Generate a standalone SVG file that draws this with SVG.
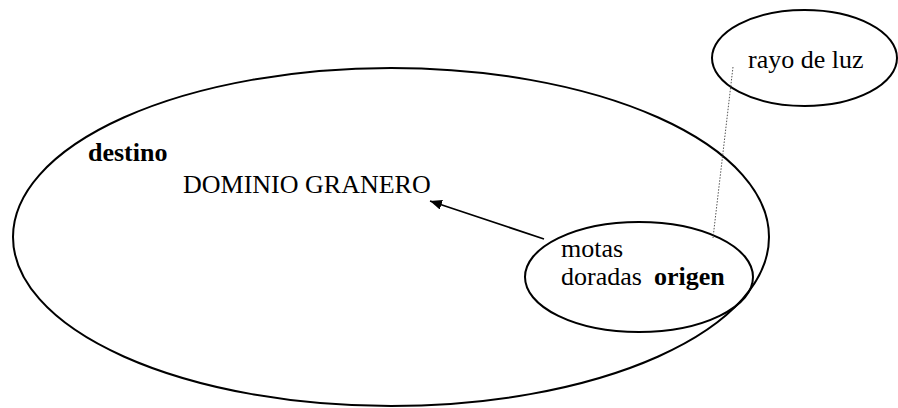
<svg xmlns="http://www.w3.org/2000/svg" width="898" height="408" viewBox="0 0 898 408">
  <style>
    .shape { fill: none; stroke: #000; stroke-width: 2; }
    .t { font-family: 'Liberation Serif', 'Times New Roman', serif; font-size: 26px; fill: #000; }
    .b { font-weight: bold; }
    .conn { stroke: #000; stroke-width: 1.7; fill: none; }
    .dot { stroke: #555; stroke-width: 1; stroke-dasharray: 1.5 1.5; fill: none; }
  </style>
  <defs>
    <marker id="arrow" viewBox="0 0 12 10" refX="12" refY="5" markerWidth="12" markerHeight="10" markerUnits="userSpaceOnUse" orient="auto">
      <path d="M0,0 L12,5 L0,10 z" fill="#000"/>
    </marker>
  </defs>
  <g id="dominio">
    <ellipse class="shape" cx="391" cy="237" rx="378" ry="169"/>
    <text class="t b" x="88" y="161">destino</text>
    <text class="t" x="183" y="193">DOMINIO GRANERO</text>
  </g>
  <g id="motas">
    <ellipse class="shape" cx="639" cy="277" rx="114" ry="55"/>
    <text class="t" x="561" y="257">motas</text>
    <text class="t" x="561" y="285">doradas <tspan class="b" x="654">origen</tspan></text>
  </g>
  <g id="rayo">
    <ellipse class="shape" cx="804.5" cy="58" rx="92.5" ry="48"/>
    <text class="t" x="748" y="68">rayo de luz</text>
  </g>
  <g id="connectors">
    <line class="conn" x1="544" y1="239" x2="430" y2="201" marker-end="url(#arrow)"/>
    <line class="dot" x1="733" y1="67" x2="713" y2="238"/>
  </g>
</svg>
